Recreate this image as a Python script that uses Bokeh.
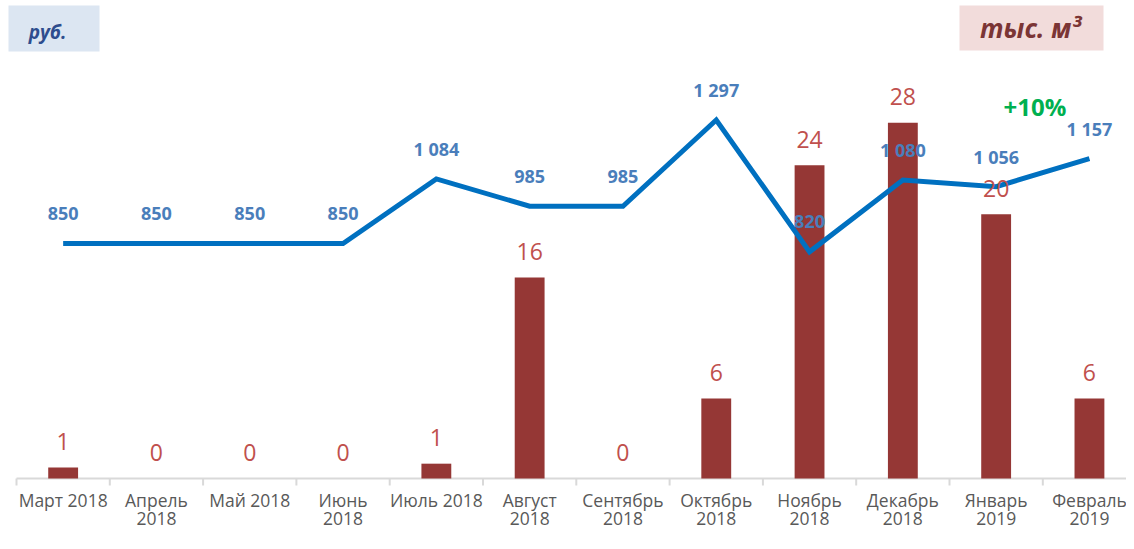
from bokeh.plotting import figure
from bokeh.models import Range1d, ColumnDataSource
from bokeh.core.properties import value
from bokeh.embed import file_html
from bokeh.resources import INLINE

# ---- data ----
months = ["Март 2018", "Апрель\n2018", "Май 2018", "Июнь\n2018", "Июль 2018",
          "Август\n2018", "Сентябрь\n2018", "Октябрь\n2018", "Ноябрь\n2018",
          "Декабрь\n2018", "Январь\n2019", "Февраль\n2019"]
volumes = [0.85, 0, 0, 0, 1.15, 15.6, 0, 6.2, 24.3, 27.6, 20.5, 6.2]   # тыс. м3
prices = [850, 850, 850, 850, 1084, 985, 985, 1297, 820, 1080, 1056, 1157]  # руб.
growth_label = "+10%"
left_box_text = "руб."
right_box_text = "тыс. м³"

FONT = "Open Sans"
W, H = 1126, 533
BASE = 478.0          # px from top of the category axis line
CAT_PX = 93.3         # px per category
X0_PX = 16.0          # px of category boundary 0 from left
BAR_PX = 12.89        # px per unit (bars)
LINE_PX = 0.2764      # px per unit (line)

n = len(months)
centers = [i + 0.5 for i in range(n)]
line1 = [m.split("\n")[0] for m in months]
line2 = [m.split("\n")[1] if "\n" in m else "" for m in months]

x_start = -X0_PX / CAT_PX
x_end = (W - X0_PX) / CAT_PX

p = figure(width=W, height=H, output_backend="svg", toolbar_location=None,
           x_range=Range1d(x_start, x_end),
           y_range=Range1d(-(H - BASE) / BAR_PX, BASE / BAR_PX),
           x_axis_location=None, y_axis_location=None,
           min_border_left=0, min_border_right=0, min_border_top=0, min_border_bottom=0)
p.extra_y_ranges = {"line": Range1d(-(H - BASE) / LINE_PX, BASE / LINE_PX)}
p.outline_line_color = None
p.xgrid.visible = False
p.ygrid.visible = False
p.background_fill_color = "white"
p.border_fill_color = "white"

# helpers: figure px -> data (bar scale)
def dx(px):
    return (px - X0_PX) / CAT_PX

def dy(py):
    return (BASE - py) / BAR_PX

# ---- corner boxes ----
p.quad(left=[dx(8), dx(959)], right=[dx(99), dx(1103)],
       top=[dy(5), dy(5)], bottom=[dy(51), dy(50)],
       fill_color=["#DCE6F2", "#F2DCDB"], line_color=None)
p.text(x=[dx(47)], y=[dy(31)], text=[left_box_text], text_align="center",
       text_baseline="middle", text_font=value(FONT), text_font_style="bold italic",
       text_font_size="19px", text_color="#2E4D8E")
p.text(x=[dx(1030)], y=[dy(27)], text=[right_box_text], text_align="center",
       text_baseline="middle", text_font=value(FONT), text_font_style="bold italic",
       text_font_size="26px", text_color="#7B3535")

# ---- category axis (line, ticks, labels) ----
p.segment(x0=[0], y0=[0], x1=[n], y1=[0], line_color="#D9D9D9", line_width=2)
bounds = list(range(n + 1))
p.segment(x0=bounds, y0=[0] * (n + 1), x1=bounds, y1=[dy(BASE + 7)] * (n + 1),
          line_color="#D9D9D9", line_width=2)
p.text(x=centers, y=[0] * n, text=line1, y_offset=21, text_align="center",
       text_baseline="middle", text_font=value(FONT), text_font_size="17.5px",
       text_color="#595959")
p.text(x=centers, y=[0] * n, text=line2, y_offset=40, text_align="center",
       text_baseline="middle", text_font=value(FONT), text_font_size="17.5px",
       text_color="#595959")

# ---- bars ----
src = ColumnDataSource(dict(x=centers, vol=volumes, price=prices,
                            vlab=[f"{v:.0f}" for v in volumes],
                            plab=[f"{v:,}".replace(",", " ") for v in prices]))
p.vbar(x="x", top="vol", width=0.32, bottom=0, source=src,
       fill_color="#953735", line_color=None)

# ---- line ----
p.line(x="x", y="price", source=src, y_range_name="line",
       line_color="#0070C0", line_width=5, line_join="miter")

# ---- labels ----
p.text(x="x", y="vol", text="vlab", source=src, y_offset=-26,
       text_align="center", text_baseline="middle", text_font=value(FONT),
       text_font_size="23px", text_color="#C0504D")
p.text(x="x", y="price", text="plab", source=src, y_range_name="line", y_offset=-30,
       text_align="center", text_baseline="middle", text_font=value(FONT),
       text_font_style="bold", text_font_size="18px", text_color="#4A7EBB")
p.text(x=[dx(1034.5)], y=[dy(106)], text=[growth_label], text_align="center",
       text_baseline="middle", text_font=value(FONT), text_font_style="bold",
       text_font_size="24px", text_color="#00B050")

open("out.html", "w").write(file_html(p, INLINE))
